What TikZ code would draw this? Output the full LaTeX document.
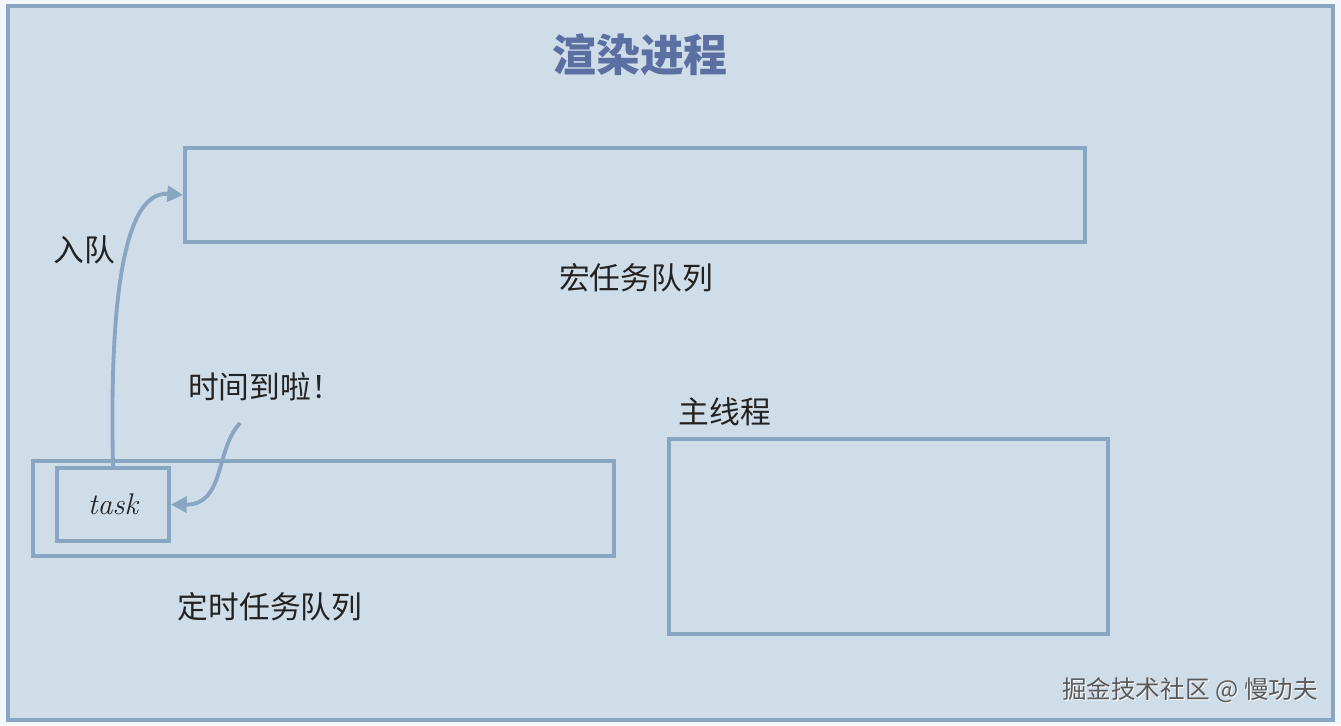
\documentclass[tikz,border=0pt]{standalone}
\usepackage{fontspec}
\newfontfamily\cjk{Noto Sans CJK SC}
\usetikzlibrary{arrows.meta}

\definecolor{paper}{HTML}{F4F7FA}
\definecolor{panel}{HTML}{CFDDE8}
\definecolor{edge}{HTML}{88A6C2}
\definecolor{titleblue}{HTML}{5B6FA2}
\definecolor{ink}{HTML}{222222}

\tikzset{
  queuebox/.style={draw=edge, line width=2.2pt},
  label/.style={font=\cjk\fontsize{17.5}{21}\selectfont, text=ink, inner sep=0pt},
  flow/.style={draw=edge, line width=2.2pt, -{Triangle[length=9pt,width=9pt]}}
}

\begin{document}
\begin{tikzpicture}[x=0.02cm, y=-0.02cm]
            % Page and bounding box
            \useasboundingbox (0,0) rectangle (1341,725);
            \fill[paper] (0,0) rectangle (1341,725);

            % Render process frame
            \draw[queuebox, fill=panel] (8,6) rectangle (1333,720);
            \node[font=\cjk\bfseries\fontsize{25}{30}\selectfont, text=titleblue] (title) at (640,55) {渲染进程};

            % Queues and main thread
            \node[queuebox, minimum width=900*0.02cm, minimum height=94*0.02cm] (macro) at (635,195) {};
            \node[label] (macrolabel) at (636,278) {宏任务队列};

            \node[queuebox, minimum width=581*0.02cm, minimum height=95*0.02cm] (timer) at (323.5,508.5) {};
            \node[label] (timerlabel) at (270,607) {定时任务队列};

            \node[queuebox, minimum width=112*0.02cm, minimum height=73*0.02cm,
                  font=\itshape\fontsize{17}{20}\selectfont, text=ink] (task) at (113,504.5) {task};

            \node[queuebox, minimum width=439*0.02cm, minimum height=195*0.02cm] (main) at (888.5,536.5) {};
            \node[label] (mainlabel) at (725,412) {主线程};

            % Enqueue and timeout arrows
            \draw[flow] (task.north) .. controls (110,330) and (118,190) .. (macro.west |- 0,195) coordinate (enq);
            \node[label] (enqlabel) at (84,250) {入队};

            \node[label] (timeout) at (265,387) {时间到啦！};
            \coordinate (tstart) at (240,423);
            \draw[flow] (tstart) .. controls (215,450) and (225,505) .. (task.east);

            % Watermark
            \node[font=\cjk\fontsize{14}{17}\selectfont, text=white] (mark) at (1191,691) {掘金技术社区 @ 慢功夫};
            \node[font=\cjk\fontsize{14}{17}\selectfont, text=gray!70!black] at (1190,690) {掘金技术社区 @ 慢功夫};
\end{tikzpicture}
\end{document}
